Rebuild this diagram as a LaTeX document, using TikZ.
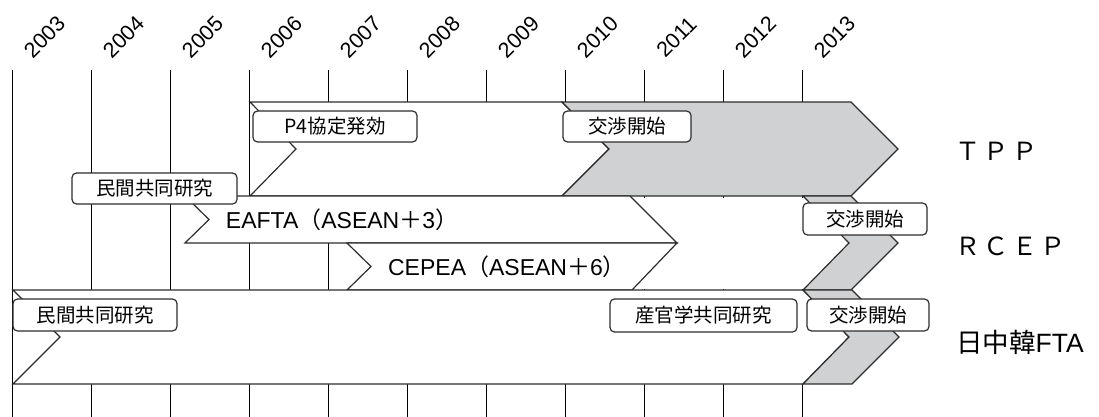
\documentclass[tikz,border=0pt]{standalone}
\usepackage{fontspec}
\setmainfont{Liberation Sans}
\newfontfamily\cjk{Noto Sans CJK JP}
\newcommand\jpf[1]{{\cjk #1}}
\definecolor{bandgray}{RGB}{208,209,211}
\definecolor{edge}{RGB}{45,45,45}
\begin{document}
\begin{tikzpicture}[x=1pt,y=-1pt,
  yearline/.style={line width=1.8pt,black},
  yearlbl/.style={rotate=45,inner sep=0pt,font=\fontsize{21.5}{21.5}\selectfont},
  band/.style={draw=edge,line width=1.2pt,fill=white,line join=miter},
  grayband/.style={band,fill=bandgray},
  tag/.style={draw=edge,line width=1.2pt,rounded corners=4.5pt,fill=white,inner sep=0pt,
    font=\cjk\fontsize{19.5}{19.5}\selectfont},
  bandtxt/.style={inner sep=0pt,font=\fontsize{23}{23}\selectfont},
  rowlbl/.style={inner sep=0pt,anchor=west,font=\fontsize{25}{25}\selectfont}]
\useasboundingbox (0,0) rectangle (1099,417);
% year lines and labels
\foreach \k [evaluate=\k as \yr using int(2003+\k)] in {0,...,10}{
  \coordinate (yt\k) at (12.5+79*\k,70);
  \coordinate (yb\k) at (12.5+79*\k,417);
  \draw[yearline] (yt\k) -- (yb\k);
  \node[yearlbl] (year\k) at (44.5+79*\k,37) {\yr};
}
% white area of the RCEP row right of the EAFTA/CEPEA bands
\fill[white] (600,197.5) rectangle (806,288.5);
% TPP
\draw[band] (250,102) -- (562,102) -- (609,149) -- (562,196) -- (250,196) -- (296,149) -- cycle;
\draw[grayband] (562,102) -- (851,102) -- (898,149) -- (851,196) -- (562,196) -- (609,149) -- cycle;
% RCEP
\draw[band] (185,196) -- (630,196) -- (677,243) -- (185,243) -- (209,219.5) -- cycle;
\draw[band] (347,243) -- (677,243) -- (632,290) -- (347,290) -- (371,266.5) -- cycle;
\draw[grayband] (803,196) -- (851,196) -- (898,243) -- (851,290) -- (803,290) -- (849,243) -- cycle;
% FTA
\draw[band] (13,290) -- (803,290) -- (849,337) -- (803,384) -- (13,384) -- (60,337) -- cycle;
\draw[grayband] (803,290) -- (852,290) -- (899,337) -- (852,384) -- (803,384) -- (849,337) -- cycle;
% band texts
\node[bandtxt] (eafta) at (342,220) {EAFTA\jpf{（}ASEAN\jpf{＋}3\jpf{）}};
\node[bandtxt] (cepea) at (507,266.5) {CEPEA\jpf{（}ASEAN\jpf{＋}6\jpf{）}};
% tags
\node[tag,minimum width=164pt,minimum height=31pt] (p4) at (335,126.5) {P4協定発効};
\node[tag,minimum width=128pt,minimum height=31pt] (tppneg) at (627,126.5) {交渉開始};
\node[tag,minimum width=165pt,minimum height=31pt] (rcepstudy) at (154.5,188.5) {民間共同研究};
\node[tag,minimum width=124pt,minimum height=32pt] (rcepneg) at (865,219) {交渉開始};
\node[tag,minimum width=164pt,minimum height=32pt] (ftastudy) at (95,315) {民間共同研究};
\node[tag,minimum width=187pt,minimum height=33pt] (ftajoint) at (703.5,315.5) {産官学共同研究};
\node[tag,minimum width=122pt,minimum height=32pt] (ftaneg) at (868,315) {交渉開始};
% row labels
\node[rowlbl] (tpp) at (955,151) {\cjk Ｔ\kern3.5ptＰ\kern3.5ptＰ};
\node[rowlbl] (rcep) at (955,246.5) {\cjk Ｒ\kern3.5ptＣ\kern3.5ptＥ\kern3.5ptＰ};
\node[rowlbl,font=\fontsize{26.5}{26.5}\selectfont] (fta) at (956,342.5) {\jpf{日中韓}FTA};
\end{tikzpicture}
\end{document}
